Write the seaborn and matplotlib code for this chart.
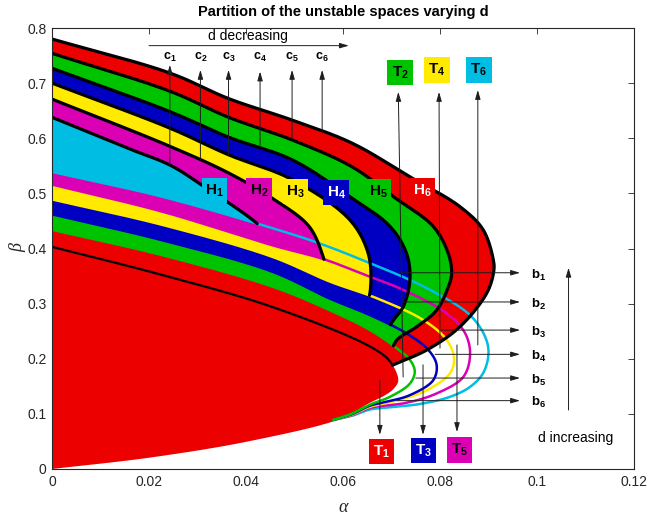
import numpy as np
import matplotlib
matplotlib.use("Agg")
import matplotlib.pyplot as plt
import seaborn as sns
from matplotlib.patches import Polygon, Rectangle

# ---------------- data ----------------
# thick black "H" curves (alpha, beta), from alpha=0 round the nose
H1_a = [0.0, 0.0165, 0.0244, 0.0309, 0.0426, 0.0460]
H1_b = [0.638, 0.579, 0.551, 0.515, 0.443, 0.410]
H2_a = [0.0, 0.0244, 0.0364, 0.0456, 0.0530, 0.0559, 0.0568]
H2_b = [0.671, 0.585, 0.537, 0.490, 0.440, 0.385, 0.350]
H3_a = [0.0, 0.0244, 0.0364, 0.0495, 0.0614, 0.0652, 0.0657, 0.0648]
H3_b = [0.700, 0.618, 0.570, 0.525, 0.452, 0.391, 0.330, 0.290]
H4_a = [0.0, 0.0244, 0.0364, 0.0495, 0.0614, 0.0697, 0.0731, 0.0738, 0.0724, 0.0704, 0.0690]
H4_b = [0.727, 0.648, 0.602, 0.561, 0.494, 0.440, 0.391, 0.343, 0.294, 0.270, 0.250]
H5_a = [0.0, 0.0244, 0.0364, 0.0495, 0.0619, 0.0704, 0.0786, 0.0817, 0.0824, 0.0817, 0.0793, 0.0752, 0.0711, 0.0698]
H5_b = [0.754, 0.685, 0.638, 0.597, 0.548, 0.494, 0.440, 0.391, 0.355, 0.330, 0.288, 0.258, 0.234, 0.210]
H6_a = [0.0, 0.0244, 0.0364, 0.0495, 0.0619, 0.0738, 0.0841, 0.0889, 0.0910, 0.0911, 0.0897, 0.0841, 0.0773, 0.0704, 0.0680]
H6_b = [0.780, 0.718, 0.672, 0.633, 0.591, 0.530, 0.476, 0.434, 0.379, 0.360, 0.320, 0.258, 0.216, 0.189, 0.178]

# thin "T" curves (alpha, beta), from alpha=0 round the nose to the lower branch
T1_a = [0.0, 0.0227, 0.0454, 0.0656, 0.0697, 0.0714, 0.0705, 0.0687, 0.0653, 0.0598, 0.0412, 0.0206, 0.0]
T1_b = [0.403, 0.352, 0.294, 0.222, 0.195, 0.161, 0.146, 0.134, 0.119, 0.092, 0.0514, 0.0212, 0.0]
T2_a = [0.0, 0.0227, 0.0454, 0.0573, 0.0656, 0.0711, 0.0738, 0.0748, 0.0738, 0.0697, 0.0656, 0.0620, 0.0580]
T2_b = [0.434, 0.388, 0.331, 0.288, 0.252, 0.219, 0.198, 0.177, 0.155, 0.131, 0.117, 0.101, 0.089]
T3_a = [0.0, 0.0227, 0.0454, 0.0573, 0.0656, 0.0731, 0.0776, 0.0793, 0.0786, 0.0738, 0.0690, 0.0656, 0.0620, 0.0580]
T3_b = [0.462, 0.415, 0.358, 0.309, 0.279, 0.246, 0.216, 0.189, 0.161, 0.134, 0.122, 0.115, 0.100, 0.089]
T4_a = [0.0, 0.0227, 0.0454, 0.0573, 0.0669, 0.0766, 0.0814, 0.0829, 0.0821, 0.0773, 0.0710, 0.0656, 0.0620, 0.0580]
T4_b = [0.489, 0.443, 0.385, 0.340, 0.310, 0.270, 0.234, 0.201, 0.174, 0.143, 0.124, 0.113, 0.099, 0.089]
T5_a = [0.0, 0.0227, 0.0454, 0.0559, 0.0640, 0.0724, 0.0814, 0.0852, 0.0862, 0.0848, 0.0793, 0.0730, 0.0656, 0.0620, 0.0580]
T5_b = [0.516, 0.467, 0.406, 0.381, 0.354, 0.325, 0.282, 0.246, 0.207, 0.167, 0.137, 0.120, 0.111, 0.098, 0.089]
T6_a = [0.0, 0.0227, 0.0454, 0.0546, 0.0640, 0.0773, 0.0862, 0.0893, 0.0900, 0.0889, 0.0862, 0.0821, 0.0759, 0.0697, 0.0656, 0.0620, 0.0580]
T6_b = [0.539, 0.494, 0.437, 0.411, 0.379, 0.328, 0.279, 0.240, 0.210, 0.174, 0.149, 0.131, 0.118, 0.112, 0.108, 0.097, 0.089]

# annotation arrows
c_alpha = [0.0243, 0.0306, 0.0364, 0.0429, 0.0495, 0.0557]
c_start = [0.551, 0.561, 0.570, 0.584, 0.597, 0.612]
c_tip = [0.733, 0.724, 0.724, 0.721, 0.724, 0.724]
b_beta = [0.356, 0.303, 0.252, 0.208, 0.165, 0.124]
b_start = [0.0718, 0.0724, 0.0802, 0.0790, 0.0750, 0.0711]
b_end = 0.0965

colors = {"red": "#EC0000", "green": "#00C300", "blue": "#0000C2",
          "yellow": "#FFEA00", "magenta": "#DC00B4", "cyan": "#00BDE3"}
H_col = ["cyan", "magenta", "yellow", "blue", "green", "red"]        # H1..H6
T_col = ["red", "green", "blue", "yellow", "magenta", "cyan"]        # T1..T6

# ---------------- helpers ----------------
SC = np.array([0.12 / 582.0, 0.8 / 441.0])


def smooth(a, b, n=24):
    P = np.column_stack([a, b]) / SC
    S = np.vstack([2 * P[0] - P[1], P, 2 * P[-1] - P[-2]])
    res = []
    for i in range(len(S) - 3):
        p0, p1, p2, p3 = S[i:i + 4]
        t0 = 0.0
        t1 = t0 + max(np.linalg.norm(p1 - p0), 1e-6) ** 0.5
        t2 = t1 + max(np.linalg.norm(p2 - p1), 1e-6) ** 0.5
        t3 = t2 + max(np.linalg.norm(p3 - p2), 1e-6) ** 0.5
        t = np.linspace(t1, t2, n, endpoint=False)[:, None]
        A1 = (t1 - t) / (t1 - t0) * p0 + (t - t0) / (t1 - t0) * p1
        A2 = (t2 - t) / (t2 - t1) * p1 + (t - t1) / (t2 - t1) * p2
        A3 = (t3 - t) / (t3 - t2) * p2 + (t - t2) / (t3 - t2) * p3
        B1 = (t2 - t) / (t2 - t0) * A1 + (t - t0) / (t2 - t0) * A2
        B2 = (t3 - t) / (t3 - t1) * A2 + (t - t1) / (t3 - t1) * A3
        res.append((t2 - t) / (t2 - t1) * B1 + (t - t1) / (t2 - t1) * B2)
    res.append(P[-1][None])
    return np.vstack(res) * SC


def upper(curve):
    k = int(np.argmax(curve[:, 0]))
    u = curve[:k + 1].copy()
    u[:, 0] = np.maximum.accumulate(u[:, 0])
    return u


def cut(hc, tu):
    d = hc[:, 1] - np.interp(hc[:, 0], tu[:, 0], tu[:, 1])
    neg = np.where(d < 0)[0]
    i = int(neg[0]) if len(neg) else len(hc) - 1
    if i == 0 or not len(neg):
        return hc, hc[-1]
    f = d[i - 1] / (d[i - 1] - d[i])
    xc = hc[i - 1] + f * (hc[i] - hc[i - 1])
    return np.vstack([hc[:i], xc]), xc


Hs = [smooth(a, b) for a, b in [(H1_a, H1_b), (H2_a, H2_b), (H3_a, H3_b),
                               (H4_a, H4_b), (H5_a, H5_b), (H6_a, H6_b)]]
Ts = [smooth(a, b) for a, b in [(T1_a, T1_b), (T2_a, T2_b), (T3_a, T3_b),
                               (T4_a, T4_b), (T5_a, T5_b), (T6_a, T6_b)]]

# ---------------- figure ----------------
sns.set_theme(style="white")
plt.rcParams["font.family"] = ["Liberation Sans", "DejaVu Sans"]
plt.rcParams["text.color"] = "black"
plt.rcParams["mathtext.fontset"] = "custom"
plt.rcParams["mathtext.rm"] = "Liberation Sans"
plt.rcParams["mathtext.bf"] = "Liberation Sans:bold"
plt.rcParams["mathtext.it"] = "Liberation Sans:italic"

fig = plt.figure(figsize=(6.51, 5.17), dpi=100)
ax = fig.add_axes([52 / 651, 48 / 517, 582 / 651, 441 / 517])

# T1 interior
ax.add_patch(Polygon(Ts[0], closed=True, fc=colors["red"], ec="none", zorder=1))

# H regions, closed by the matching T curve (H_k with T_{7-k})
h_lines = []
l_end = None
for k in range(5, -1, -1):
    tu = upper(Ts[5 - k])
    hpart, xc = cut(Hs[k], tu)
    tail = tu[tu[:, 0] < xc[0]][::-1]
    poly = np.vstack([hpart, tail])
    ax.add_patch(Polygon(poly, closed=True, fc=colors[H_col[k]], ec="none", zorder=2))
    h_lines.append(hpart)
    if k == 5:
        l_end = xc

# T lines
for j in range(5, 0, -1):
    sns.lineplot(x=Ts[j][:, 0], y=Ts[j][:, 1], sort=False, estimator=None,
                 color=colors[T_col[j]], linewidth=1.8, ax=ax, zorder=4)

# H lines (thick black)
for hp in h_lines:
    sns.lineplot(x=hp[:, 0], y=hp[:, 1], sort=False, estimator=None,
                 color="black", linewidth=2.3, ax=ax, zorder=5)

# T1 upper branch (black)
tu1 = upper(Ts[0])
L = np.vstack([tu1[tu1[:, 0] < l_end[0]], l_end])
sns.lineplot(x=L[:, 0], y=L[:, 1], sort=False, estimator=None,
             color="black", linewidth=1.6, ax=ax, zorder=5)

# ---------------- annotations ----------------
AP = dict(arrowstyle="-|>,head_length=0.55,head_width=0.16", lw=0.7,
          color="#1e1e1e", shrinkA=0, shrinkB=0, mutation_scale=10)


def arrow(x0, y0, x1, y1):
    ax.annotate("", xy=(x1, y1), xytext=(x0, y0), arrowprops=AP, zorder=8)


for i in range(6):
    arrow(c_alpha[i], c_start[i], c_alpha[i], c_tip[i])
    ax.text(c_alpha[i], 0.747, r"$\mathbf{c}_{\mathbf{%d}}$" % (i + 1), fontsize=9,
            ha="center", va="center", color="black", zorder=9)
    arrow(b_start[i], b_beta[i], b_end, b_beta[i])
    ax.text(0.0988, b_beta[i] - 0.004, r"$\mathbf{b}_{\mathbf{%d}}$" % (i + 1), fontsize=9.5,
            ha="left", va="center", color="black", zorder=9)

arrow(0.0200, 0.768, 0.0612, 0.768)
ax.text(0.0404, 0.786, "d decreasing", fontsize=10, ha="center", va="center", color="black")
arrow(0.1065, 0.107, 0.1065, 0.365)
ax.text(0.1080, 0.056, "d increasing", fontsize=10, ha="center", va="center", color="black")

# T arrows
arrow(0.0724, 0.167, 0.0714, 0.684)   # T2
arrow(0.0800, 0.2195, 0.0798, 0.684)  # T4
arrow(0.0878, 0.225, 0.0878, 0.6875)  # T6
arrow(0.0676, 0.161, 0.0676, 0.062)   # T1
arrow(0.0765, 0.189, 0.0765, 0.062)   # T3
arrow(0.0835, 0.225, 0.0835, 0.067)   # T5

W, Hh = 0.0053, 0.047


def box(cx, cy, col, name, tcol):
    ax.add_patch(Rectangle((cx - W / 2, cy - Hh / 2), W, Hh, fc=colors[col], ec="none", zorder=10))
    ax.text(cx, cy, r"$\mathbf{%s}_{\mathbf{%s}}$" % (name[0], name[1]), fontsize=11,
            ha="center", va="center", color=tcol, zorder=11)


box(0.0335, 0.5052, "cyan", "H1", "black")
box(0.0427, 0.5052, "magenta", "H2", "black")
box(0.0502, 0.5034, "yellow", "H3", "black")
box(0.0586, 0.5016, "blue", "H4", "white")
box(0.0673, 0.5025, "green", "H5", "black")
box(0.0764, 0.5052, "red", "H6", "white")
box(0.06794, 0.0317, "red", "T1", "white")
box(0.0766, 0.0336, "blue", "T3", "white")
box(0.0840, 0.0345, "magenta", "T5", "black")
box(0.07175, 0.7193, "green", "T2", "black")
box(0.0794, 0.7238, "yellow", "T4", "black")
box(0.0880, 0.7238, "cyan", "T6", "black")

# ---------------- axes styling ----------------
ax.set_xlim(0, 0.12)
ax.set_ylim(0, 0.8)
xt = [0, 0.02, 0.04, 0.06, 0.08, 0.1, 0.12]
yt = [0, 0.1, 0.2, 0.3, 0.4, 0.5, 0.6, 0.7, 0.8]
ax.set_xticks(xt)
ax.set_xticklabels(["0", "0.02", "0.04", "0.06", "0.08", "0.1", "0.12"])
ax.set_yticks(yt)
ax.set_yticklabels(["0", "0.1", "0.2", "0.3", "0.4", "0.5", "0.6", "0.7", "0.8"])
ax.set_xlabel("")
ax.set_ylabel("")
ax.tick_params(direction="in", length=4, width=0.6, top=True, right=True,
               labelsize=10, colors="#262626", pad=4)
for s in ax.spines.values():
    s.set_color("#262626")
    s.set_linewidth(0.8)
    s.set_zorder(12)

fig.text(343 / 651, 1 - 12 / 517, "Partition of the unstable spaces varying d",
         fontsize=10.5, fontweight="bold", ha="center", va="center", color="black")
fig.text(18 / 651, 1 - 248 / 517, "β", rotation=90, fontfamily="Liberation Serif",
         style="italic", fontsize=13, ha="center", va="center", color="#262626")
fig.text(343 / 651, 1 - 507 / 517, "α", fontfamily="Liberation Serif",
         style="italic", fontsize=13, ha="center", va="center", color="#262626")

fig.savefig("out.png", dpi=100)
